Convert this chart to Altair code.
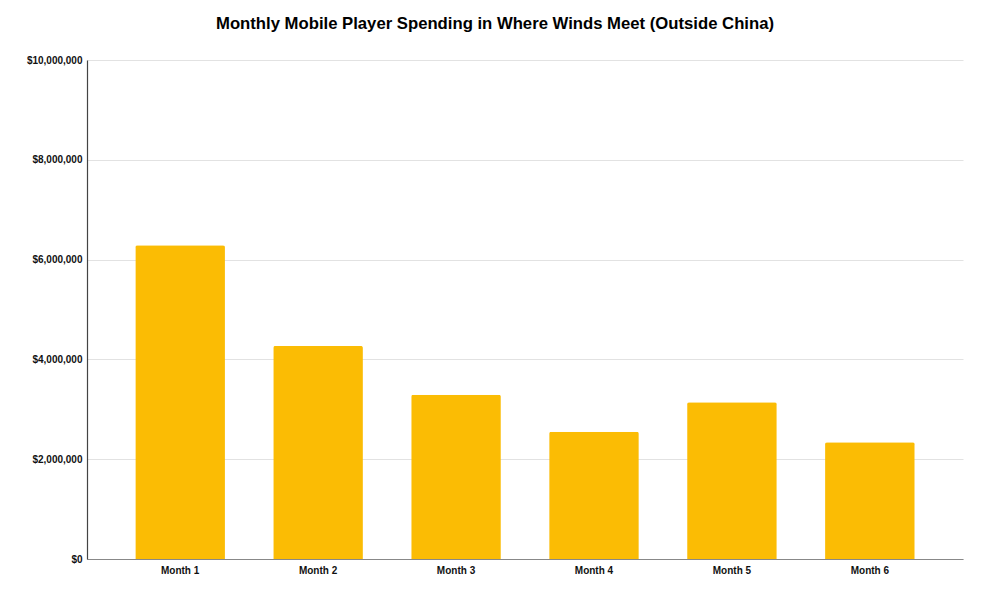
import altair as alt
import pandas as pd

months = ["Month 1", "Month 2", "Month 3", "Month 4", "Month 5", "Month 6"]
spending = [6290000, 4270000, 3290000, 2550000, 3140000, 2340000]

df = pd.DataFrame({"month": months, "spending": spending})

chart = alt.Chart(df).mark_bar(color="#FBBC04", cornerRadiusTopLeft=2, cornerRadiusTopRight=2).encode(
    x=alt.X("month:N", sort=months, title=None,
            scale=alt.Scale(paddingInner=0.35, paddingOuter=0.35),
            axis=alt.Axis(labelAngle=0, labelFont="Liberation Sans", labelFontWeight="bold",
                          labelFontSize=10, labelColor="#111", ticks=False, labelPadding=6,
                          domainColor="#888", domainWidth=1.2, grid=False)),
    y=alt.Y("spending:Q", title=None,
            scale=alt.Scale(domain=[0, 10000000]),
            axis=alt.Axis(values=[0, 2000000, 4000000, 6000000, 8000000, 10000000],
                          format="$,.0f", labelFont="Liberation Sans", labelFontWeight="bold",
                          labelFontSize=10, labelColor="#111", ticks=False, labelPadding=5,
                          domain=True, domainColor="#444", domainWidth=1.2,
                          gridColor="#e2e2e2", gridWidth=1)),
).properties(
    width=876, height=499,
    background="white",
    title=alt.TitleParams("Monthly Mobile Player Spending in Where Winds Meet (Outside China)",
                          font="Liberation Sans", fontSize=16.7, fontWeight="bold", color="#000",
                          anchor="middle", dx=-30, offset=22),
    autosize=alt.AutoSizeParams(type="none"),
    padding={"left": 79, "top": 52, "right": 16, "bottom": 30},
).configure_view(stroke="transparent", strokeWidth=0)

chart.save("out.html", embed_options={"renderer": "svg", "actions": False})
